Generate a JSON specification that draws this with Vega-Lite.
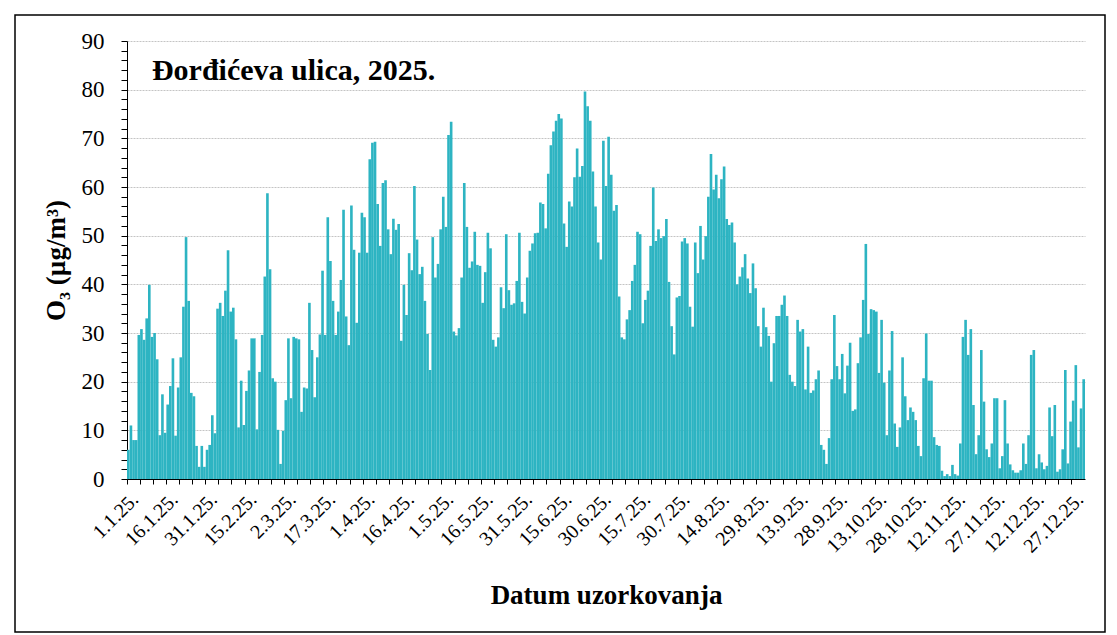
{
  "$schema": "https://vega.github.io/schema/vega-lite/v6.json",
  "width": 1090,
  "height": 617,
  "autosize": {"type": "none"},
  "padding": {"left": 15, "top": 15, "right": 12, "bottom": 3},
  "background": "#ffffff",
  "config": {"view": {"stroke": "#000000", "strokeWidth": 1.5}},
  "datasets": {
    "o3": [
      {"date":"2025-01-01","o3":6},{"date":"2025-01-02","o3":11},{"date":"2025-01-03","o3":8},{"date":"2025-01-04","o3":8},{"date":"2025-01-05","o3":29.6},{"date":"2025-01-06","o3":30.8},{"date":"2025-01-07","o3":28.6},{"date":"2025-01-08","o3":33},{"date":"2025-01-09","o3":39.9},{"date":"2025-01-10","o3":29.2},
      {"date":"2025-01-11","o3":30},{"date":"2025-01-12","o3":24.6},{"date":"2025-01-13","o3":9},{"date":"2025-01-14","o3":17.4},{"date":"2025-01-15","o3":9.5},{"date":"2025-01-16","o3":15.3},{"date":"2025-01-17","o3":19.1},{"date":"2025-01-18","o3":24.8},{"date":"2025-01-19","o3":8.9},{"date":"2025-01-20","o3":18.8},
      {"date":"2025-01-21","o3":25},{"date":"2025-01-22","o3":35.4},{"date":"2025-01-23","o3":49.7},{"date":"2025-01-24","o3":36.6},{"date":"2025-01-25","o3":17.7},{"date":"2025-01-26","o3":17},{"date":"2025-01-27","o3":6.8},{"date":"2025-01-28","o3":2.5},{"date":"2025-01-29","o3":6.8},{"date":"2025-01-30","o3":2.5},
      {"date":"2025-01-31","o3":6},{"date":"2025-02-01","o3":7},{"date":"2025-02-02","o3":13.1},{"date":"2025-02-03","o3":9.4},{"date":"2025-02-04","o3":35},{"date":"2025-02-05","o3":36.2},{"date":"2025-02-06","o3":33.5},{"date":"2025-02-07","o3":38.7},{"date":"2025-02-08","o3":47},{"date":"2025-02-09","o3":34.4},
      {"date":"2025-02-10","o3":35.2},{"date":"2025-02-11","o3":28.7},{"date":"2025-02-12","o3":10.6},{"date":"2025-02-13","o3":20.2},{"date":"2025-02-14","o3":11.1},{"date":"2025-02-15","o3":18.1},{"date":"2025-02-16","o3":22.3},{"date":"2025-02-17","o3":28.9},{"date":"2025-02-18","o3":28.9},{"date":"2025-02-19","o3":10.2},
      {"date":"2025-02-20","o3":22},{"date":"2025-02-21","o3":29.6},{"date":"2025-02-22","o3":41.6},{"date":"2025-02-23","o3":58.7},{"date":"2025-02-24","o3":43.1},{"date":"2025-02-25","o3":20.7},{"date":"2025-02-26","o3":20},{"date":"2025-02-27","o3":10.1},{"date":"2025-02-28","o3":3.1},{"date":"2025-03-01","o3":9.9},
      {"date":"2025-03-02","o3":16.2},{"date":"2025-03-03","o3":28.9},{"date":"2025-03-04","o3":16.6},{"date":"2025-03-05","o3":29.2},{"date":"2025-03-06","o3":28.9},{"date":"2025-03-07","o3":28.7},{"date":"2025-03-08","o3":13.8},{"date":"2025-03-09","o3":18.8},{"date":"2025-03-10","o3":18.6},{"date":"2025-03-11","o3":36.2},
      {"date":"2025-03-12","o3":26.5},{"date":"2025-03-13","o3":16.8},{"date":"2025-03-14","o3":25},{"date":"2025-03-15","o3":29.7},{"date":"2025-03-16","o3":42.8},{"date":"2025-03-17","o3":29.6},{"date":"2025-03-18","o3":53.8},{"date":"2025-03-19","o3":44.8},{"date":"2025-03-20","o3":36.6},{"date":"2025-03-21","o3":29.6},
      {"date":"2025-03-22","o3":34.4},{"date":"2025-03-23","o3":40.9},{"date":"2025-03-24","o3":55.3},{"date":"2025-03-25","o3":33.4},{"date":"2025-03-26","o3":27.5},{"date":"2025-03-27","o3":56.2},{"date":"2025-03-28","o3":47.1},{"date":"2025-03-29","o3":32.1},{"date":"2025-03-30","o3":46.5},{"date":"2025-03-31","o3":54.7},
      {"date":"2025-04-01","o3":53.8},{"date":"2025-04-02","o3":46.5},{"date":"2025-04-03","o3":65.7},{"date":"2025-04-04","o3":69.1},{"date":"2025-04-05","o3":69.3},{"date":"2025-04-06","o3":56.5},{"date":"2025-04-07","o3":47.9},{"date":"2025-04-08","o3":60.8},{"date":"2025-04-09","o3":61.4},{"date":"2025-04-10","o3":51.3},
      {"date":"2025-04-11","o3":46.2},{"date":"2025-04-12","o3":53.5},{"date":"2025-04-13","o3":51.2},{"date":"2025-04-14","o3":52.4},{"date":"2025-04-15","o3":28.4},{"date":"2025-04-16","o3":39.9},{"date":"2025-04-17","o3":33.7},{"date":"2025-04-18","o3":46.4},{"date":"2025-04-19","o3":42.9},{"date":"2025-04-20","o3":60.2},
      {"date":"2025-04-21","o3":49.2},{"date":"2025-04-22","o3":42.1},{"date":"2025-04-23","o3":43.6},{"date":"2025-04-24","o3":36.6},{"date":"2025-04-25","o3":29.8},{"date":"2025-04-26","o3":22.4},{"date":"2025-04-27","o3":49.7},{"date":"2025-04-28","o3":41.4},{"date":"2025-04-29","o3":44.2},{"date":"2025-04-30","o3":51.3},
      {"date":"2025-05-01","o3":58},{"date":"2025-05-02","o3":51.8},{"date":"2025-05-03","o3":70.7},{"date":"2025-05-04","o3":73.4},{"date":"2025-05-05","o3":30.3},{"date":"2025-05-06","o3":29.5},{"date":"2025-05-07","o3":31},{"date":"2025-05-08","o3":41.4},{"date":"2025-05-09","o3":60.8},{"date":"2025-05-10","o3":51.8},
      {"date":"2025-05-11","o3":43.4},{"date":"2025-05-12","o3":44.7},{"date":"2025-05-13","o3":50.8},{"date":"2025-05-14","o3":44},{"date":"2025-05-15","o3":43.8},{"date":"2025-05-16","o3":36.2},{"date":"2025-05-17","o3":42.5},{"date":"2025-05-18","o3":50.6},{"date":"2025-05-19","o3":47.4},{"date":"2025-05-20","o3":28.6},
      {"date":"2025-05-21","o3":27.2},{"date":"2025-05-22","o3":29.1},{"date":"2025-05-23","o3":39.4},{"date":"2025-05-24","o3":35.1},{"date":"2025-05-25","o3":50.3},{"date":"2025-05-26","o3":38.8},{"date":"2025-05-27","o3":35.8},{"date":"2025-05-28","o3":36.1},{"date":"2025-05-29","o3":40.7},{"date":"2025-05-30","o3":50.6},
      {"date":"2025-05-31","o3":36.4},{"date":"2025-06-01","o3":34},{"date":"2025-06-02","o3":41.4},{"date":"2025-06-03","o3":46.9},{"date":"2025-06-04","o3":48.4},{"date":"2025-06-05","o3":50.5},{"date":"2025-06-06","o3":50.6},{"date":"2025-06-07","o3":56.8},{"date":"2025-06-08","o3":56.5},{"date":"2025-06-09","o3":51.5},
      {"date":"2025-06-10","o3":62.7},{"date":"2025-06-11","o3":68.6},{"date":"2025-06-12","o3":71.4},{"date":"2025-06-13","o3":73.6},{"date":"2025-06-14","o3":75},{"date":"2025-06-15","o3":74.1},{"date":"2025-06-16","o3":52.5},{"date":"2025-06-17","o3":47.7},{"date":"2025-06-18","o3":57},{"date":"2025-06-19","o3":56},
      {"date":"2025-06-20","o3":62},{"date":"2025-06-21","o3":67.9},{"date":"2025-06-22","o3":62.1},{"date":"2025-06-23","o3":64.3},{"date":"2025-06-24","o3":79.6},{"date":"2025-06-25","o3":76.6},{"date":"2025-06-26","o3":73.6},{"date":"2025-06-27","o3":63.2},{"date":"2025-06-28","o3":56},{"date":"2025-06-29","o3":48.6},
      {"date":"2025-06-30","o3":45.1},{"date":"2025-07-01","o3":69.5},{"date":"2025-07-02","o3":60.2},{"date":"2025-07-03","o3":70.3},{"date":"2025-07-04","o3":62.5},{"date":"2025-07-05","o3":55.1},{"date":"2025-07-06","o3":56.3},{"date":"2025-07-07","o3":37.5},{"date":"2025-07-08","o3":29.1},{"date":"2025-07-09","o3":28.7},
      {"date":"2025-07-10","o3":32.8},{"date":"2025-07-11","o3":34.7},{"date":"2025-07-12","o3":40.7},{"date":"2025-07-13","o3":44},{"date":"2025-07-14","o3":50.8},{"date":"2025-07-15","o3":50.3},{"date":"2025-07-16","o3":32},{"date":"2025-07-17","o3":36.8},{"date":"2025-07-18","o3":38.7},{"date":"2025-07-19","o3":47.9},
      {"date":"2025-07-20","o3":59.9},{"date":"2025-07-21","o3":48.9},{"date":"2025-07-22","o3":51.3},{"date":"2025-07-23","o3":49.5},{"date":"2025-07-24","o3":49.9},{"date":"2025-07-25","o3":53.4},{"date":"2025-07-26","o3":40.5},{"date":"2025-07-27","o3":31.4},{"date":"2025-07-28","o3":25.6},{"date":"2025-07-29","o3":37.3},
      {"date":"2025-07-30","o3":37.6},{"date":"2025-07-31","o3":48.8},{"date":"2025-08-01","o3":49.5},{"date":"2025-08-02","o3":48.4},{"date":"2025-08-03","o3":35.4},{"date":"2025-08-04","o3":31.3},{"date":"2025-08-05","o3":48.6},{"date":"2025-08-06","o3":42.3},{"date":"2025-08-07","o3":52},{"date":"2025-08-08","o3":45.1},
      {"date":"2025-08-09","o3":49.9},{"date":"2025-08-10","o3":58},{"date":"2025-08-11","o3":66.8},{"date":"2025-08-12","o3":59.5},{"date":"2025-08-13","o3":62.5},{"date":"2025-08-14","o3":57.7},{"date":"2025-08-15","o3":61.6},{"date":"2025-08-16","o3":64.2},{"date":"2025-08-17","o3":53.4},{"date":"2025-08-18","o3":52.2},
      {"date":"2025-08-19","o3":52.7},{"date":"2025-08-20","o3":48.6},{"date":"2025-08-21","o3":40},{"date":"2025-08-22","o3":41.6},{"date":"2025-08-23","o3":43.5},{"date":"2025-08-24","o3":46.2},{"date":"2025-08-25","o3":41.2},{"date":"2025-08-26","o3":38.2},{"date":"2025-08-27","o3":44.3},{"date":"2025-08-28","o3":39.2},
      {"date":"2025-08-29","o3":31.4},{"date":"2025-08-30","o3":27.2},{"date":"2025-08-31","o3":35.2},{"date":"2025-09-01","o3":31.2},{"date":"2025-09-02","o3":29.4},{"date":"2025-09-03","o3":20},{"date":"2025-09-04","o3":27.9},{"date":"2025-09-05","o3":33.5},{"date":"2025-09-06","o3":33.5},{"date":"2025-09-07","o3":35.8},
      {"date":"2025-09-08","o3":37.7},{"date":"2025-09-09","o3":33.5},{"date":"2025-09-10","o3":21.4},{"date":"2025-09-11","o3":20},{"date":"2025-09-12","o3":19.1},{"date":"2025-09-13","o3":32.7},{"date":"2025-09-14","o3":30.3},{"date":"2025-09-15","o3":30.8},{"date":"2025-09-16","o3":18.4},{"date":"2025-09-17","o3":27.2},
      {"date":"2025-09-18","o3":17.7},{"date":"2025-09-19","o3":18.2},{"date":"2025-09-20","o3":20.5},{"date":"2025-09-21","o3":22.3},{"date":"2025-09-22","o3":7},{"date":"2025-09-23","o3":6},{"date":"2025-09-24","o3":3.1},{"date":"2025-09-25","o3":8.4},{"date":"2025-09-26","o3":20.5},{"date":"2025-09-27","o3":33.7},
      {"date":"2025-09-28","o3":23.2},{"date":"2025-09-29","o3":20.5},{"date":"2025-09-30","o3":25.7},{"date":"2025-10-01","o3":17.6},{"date":"2025-10-02","o3":23.3},{"date":"2025-10-03","o3":28},{"date":"2025-10-04","o3":14},{"date":"2025-10-05","o3":14.3},{"date":"2025-10-06","o3":23.8},{"date":"2025-10-07","o3":29.1},
      {"date":"2025-10-08","o3":36.8},{"date":"2025-10-09","o3":48.3},{"date":"2025-10-10","o3":29.8},{"date":"2025-10-11","o3":34.9},{"date":"2025-10-12","o3":34.7},{"date":"2025-10-13","o3":34.4},{"date":"2025-10-14","o3":21.8},{"date":"2025-10-15","o3":32.7},{"date":"2025-10-16","o3":19.8},{"date":"2025-10-17","o3":9},
      {"date":"2025-10-18","o3":22.3},{"date":"2025-10-19","o3":30.4},{"date":"2025-10-20","o3":11.4},{"date":"2025-10-21","o3":6.6},{"date":"2025-10-22","o3":10.6},{"date":"2025-10-23","o3":25},{"date":"2025-10-24","o3":17},{"date":"2025-10-25","o3":12.1},{"date":"2025-10-26","o3":14.7},{"date":"2025-10-27","o3":13.8},
      {"date":"2025-10-28","o3":12.1},{"date":"2025-10-29","o3":6.8},{"date":"2025-10-30","o3":4.7},{"date":"2025-10-31","o3":20.7},{"date":"2025-11-01","o3":29.9},{"date":"2025-11-02","o3":20.2},{"date":"2025-11-03","o3":20.2},{"date":"2025-11-04","o3":8.6},{"date":"2025-11-05","o3":7},{"date":"2025-11-06","o3":6.8},
      {"date":"2025-11-07","o3":1.7},{"date":"2025-11-08","o3":0.6},{"date":"2025-11-09","o3":1},{"date":"2025-11-10","o3":0.6},{"date":"2025-11-11","o3":2.9},{"date":"2025-11-12","o3":1},{"date":"2025-11-13","o3":0.7},{"date":"2025-11-14","o3":7.3},{"date":"2025-11-15","o3":29.2},{"date":"2025-11-16","o3":32.7},
      {"date":"2025-11-17","o3":25.5},{"date":"2025-11-18","o3":30.8},{"date":"2025-11-19","o3":15.2},{"date":"2025-11-20","o3":5.1},{"date":"2025-11-21","o3":9},{"date":"2025-11-22","o3":26.5},{"date":"2025-11-23","o3":15.9},{"date":"2025-11-24","o3":6.1},{"date":"2025-11-25","o3":4.5},{"date":"2025-11-26","o3":7.3},
      {"date":"2025-11-27","o3":16.6},{"date":"2025-11-28","o3":16.6},{"date":"2025-11-29","o3":2.2},{"date":"2025-11-30","o3":4.7},{"date":"2025-12-01","o3":16.2},{"date":"2025-12-02","o3":7.3},{"date":"2025-12-03","o3":3},{"date":"2025-12-04","o3":1.8},{"date":"2025-12-05","o3":1.3},{"date":"2025-12-06","o3":1.3},
      {"date":"2025-12-07","o3":1.8},{"date":"2025-12-08","o3":7.3},{"date":"2025-12-09","o3":3.1},{"date":"2025-12-10","o3":9},{"date":"2025-12-11","o3":25.5},{"date":"2025-12-12","o3":26.5},{"date":"2025-12-13","o3":2.2},{"date":"2025-12-14","o3":5.1},{"date":"2025-12-15","o3":3.4},{"date":"2025-12-16","o3":2},
      {"date":"2025-12-17","o3":2.7},{"date":"2025-12-18","o3":14.7},{"date":"2025-12-19","o3":8.8},{"date":"2025-12-20","o3":15.2},{"date":"2025-12-21","o3":1.5},{"date":"2025-12-22","o3":2},{"date":"2025-12-23","o3":6.1},{"date":"2025-12-24","o3":22.4},{"date":"2025-12-25","o3":3.2},{"date":"2025-12-26","o3":11.8},
      {"date":"2025-12-27","o3":16.1},{"date":"2025-12-28","o3":23.4},{"date":"2025-12-29","o3":6.5},{"date":"2025-12-30","o3":14.5},{"date":"2025-12-31","o3":20.5}
    ]
  },
  "layer": [
    {
      "data": {"name": "o3"},
      "mark": {"type": "bar", "color": "#2db4c2"},
      "encoding": {
        "x": {
          "field": "date",
          "type": "ordinal",
          "scale": {"range": [112, 1070], "paddingInner": 0, "paddingOuter": 0},
          "axis": {
            "offset": -153,
            "bandPosition": 0,
            "labelAngle": -45,
            "labelOverlap": false,
            "labelExpr": "round((toDate(datum.value) - toDate('2025-01-01')) / 86400000) % 15 === 0 ? utcFormat(toDate(datum.value), '%-d.%-m.%y.') : ''",
            "tickOpacity": {"condition": {"test": "round((toDate(datum.value) - toDate('2025-01-01')) / 86400000) % 5 === 0", "value": 1}, "value": 0},
            "tickSize": 5,
            "tickColor": "#000000",
            "domainColor": "#000000",
            "labelFont": "Liberation Serif",
            "labelFontSize": 20,
            "labelColor": "#000000",
            "labelPadding": 5,
            "title": "Datum uzorkovanja",
            "titleFont": "Liberation Serif",
            "titleFontSize": 27,
            "titleFontWeight": "bold",
            "titleColor": "#000000",
            "titlePadding": 26
          }
        },
        "y": {
          "field": "o3",
          "type": "quantitative",
          "scale": {"domain": [0, 90], "range": [464, 26], "nice": false},
          "axis": {
            "offset": -112,
            "values": [0,2,4,6,8,10,12,14,16,18,20,22,24,26,28,30,32,34,36,38,40,42,44,46,48,50,52,54,56,58,60,62,64,66,68,70,72,74,76,78,80,82,84,86,88,90],
            "tickCount": 100,
            "labelExpr": "datum.value % 10 === 0 ? datum.label : ''",
            "labelOverlap": false,
            "grid": true,
            "gridColor": "#c4c4c4",
            "gridDash": [2, 1],
            "gridOpacity": {"condition": {"test": "datum.value % 10 === 0 && datum.value > 0", "value": 1}, "value": 0},
            "domainColor": "#000000",
            "tickColor": "#000000",
            "tickSize": 6,
            "labelFont": "Liberation Serif",
            "labelFontSize": 23,
            "labelColor": "#000000",
            "labelPadding": 17,
            "title": "O₃ (µg/m³)",
            "titleFont": "Liberation Serif",
            "titleFontSize": 27,
            "titleFontWeight": "bold",
            "titleColor": "#000000",
            "titlePadding": 11
          }
        }
      }
    },
    {
      "data": {"values": [{"label": "Đorđićeva ulica, 2025."}]},
      "mark": {"type": "text", "align": "left", "baseline": "alphabetic", "font": "Liberation Serif", "fontSize": 30, "fontWeight": "bold", "color": "#000000"},
      "encoding": {
        "x": {"datum": "2025-01-10", "type": "ordinal"},
        "y": {"datum": 82, "type": "quantitative"},
        "text": {"field": "label"}
      }
    }
  ]
}
